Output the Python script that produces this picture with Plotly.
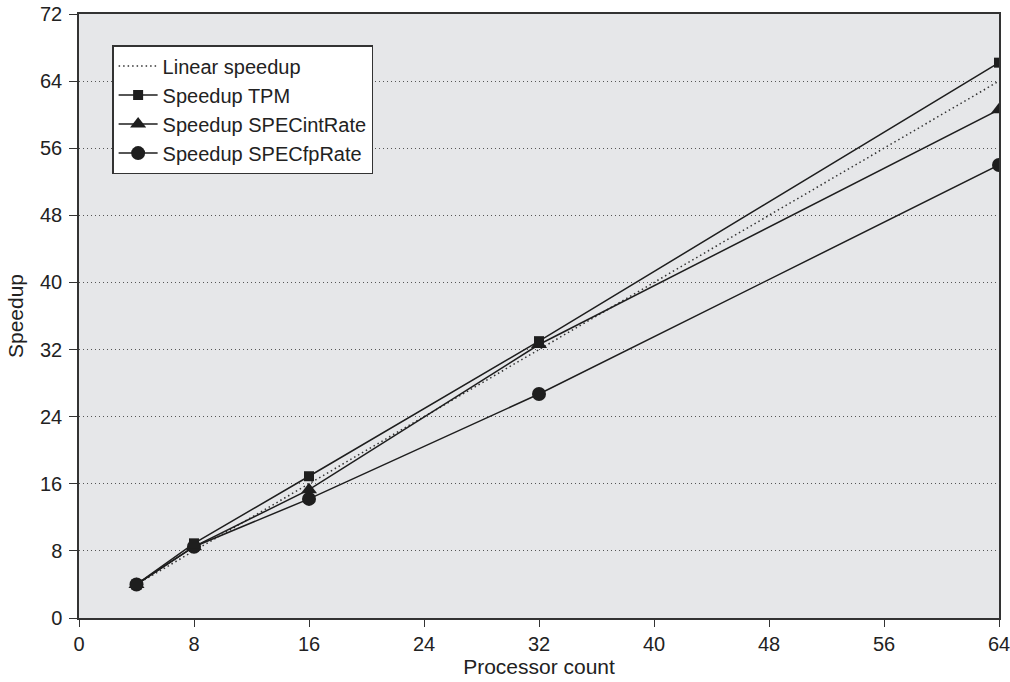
import plotly.graph_objects as go

processors = [4, 8, 16, 32, 64]
linear = [4, 8, 16, 32, 64]
tpm = [4.0, 8.9, 16.9, 33.0, 66.2]
spec_int = [4.0, 8.5, 15.3, 32.6, 60.6]
spec_fp = [4.0, 8.5, 14.2, 26.7, 54.0]

x_ticks = [0, 8, 16, 24, 32, 40, 48, 56, 64]
y_ticks = [0, 8, 16, 24, 32, 40, 48, 56, 64, 72]

ink = "#1e1e1e"
fig = go.Figure()
fig.add_trace(go.Scatter(x=processors, y=linear, name="Linear speedup", mode="lines",
                         legendrank=1,
                         line=dict(color="#333333", width=1.5, dash="1.5px,3px")))
fig.add_trace(go.Scatter(x=processors, y=spec_fp, name="Speedup SPECfpRate", mode="lines+markers",
                         legendrank=4,
                         line=dict(color=ink, width=1.5),
                         marker=dict(symbol="circle", size=14, color=ink)))
fig.add_trace(go.Scatter(x=processors, y=spec_int, name="Speedup SPECintRate", mode="lines+markers",
                         legendrank=3,
                         line=dict(color=ink, width=1.5),
                         marker=dict(symbol="triangle-up", size=14, color=ink)))
fig.add_trace(go.Scatter(x=processors, y=tpm, name="Speedup TPM", mode="lines+markers",
                         legendrank=2,
                         line=dict(color=ink, width=1.5),
                         marker=dict(symbol="square", size=10, color=ink)))

font = dict(family="Liberation Sans, Arial, sans-serif", size=20, color="#222222")
fig.update_layout(
    width=1010, height=682,
    margin=dict(l=79, r=11, t=14, b=64),
    paper_bgcolor="white", plot_bgcolor="#e6e7e9",
    font=font,
    showlegend=True,
    legend=dict(x=0.036, y=0.9485, xanchor="left", yanchor="top",
                bgcolor="white", bordercolor="#333333", borderwidth=1.5,
                font=dict(size=20), tracegroupgap=0, itemwidth=39),
    xaxis=dict(range=[0, 64], tickvals=x_ticks, showgrid=False, zeroline=False,
               showline=True, linecolor="#333333", linewidth=1.5, mirror=True,
               ticks="outside", ticklen=7, tickcolor="#333333",
               tickfont=dict(size=20), automargin=False, ticklabeloverflow="allow",
               title=dict(text="Processor count", standoff=0, font=dict(size=21))),
    yaxis=dict(range=[0, 72], tickvals=y_ticks, showgrid=True, gridcolor="#555555",
               griddash="1px,3px", gridwidth=1.2, zeroline=False,
               showline=True, linecolor="#333333", linewidth=1.5, mirror=True,
               ticks="outside", ticklen=8, tickcolor="#333333", ticklabelstandoff=3,
               tickfont=dict(size=20), automargin=False, ticklabeloverflow="allow",
               title=dict(text="Speedup", standoff=11, font=dict(size=21))),
)
fig.write_html("out.html", config={"displayModeBar": False},
               post_script="document.body.style.margin='0';document.body.style.overflow='hidden';")
